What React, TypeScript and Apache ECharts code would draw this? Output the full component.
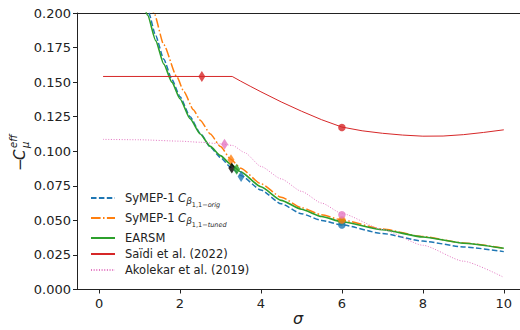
import React, { useEffect, useRef } from "react";
import * as echarts from "echarts";

const FONT = "DejaVu Sans";

const xTicks = [0, 2, 4, 6, 8, 10];

const symepOrig: [number, number][] = [[1.15,0.2050],[1.228,0.2000],[1.40,0.1835],[1.60,0.1665],[1.80,0.1520],[2.00,0.1395],[2.25,0.1250],[2.50,0.1130],[2.75,0.1030],[3.00,0.0955],[3.25,0.0885],[3.50,0.0825],[4.00,0.0720],[4.50,0.0620],[5.00,0.0548],[5.50,0.0500],[6.00,0.0467],[7.00,0.0405],[8.00,0.0350],[9.00,0.0308],[10.00,0.0274]];
const symepTuned: [number, number][] = [[1.28,0.2070],[1.359,0.2000],[1.60,0.1770],[1.92,0.1540],[2.10,0.1430],[2.33,0.1300],[2.50,0.1225],[2.75,0.1125],[3.00,0.1034],[3.26,0.0940],[3.50,0.0877],[4.00,0.0765],[4.50,0.0668],[5.00,0.0592],[5.50,0.0540],[6.00,0.0503],[7.00,0.0437],[8.00,0.0383],[9.00,0.0337],[10.00,0.0298]];
const earsm: [number, number][] = [[1.10,0.2065],[1.20,0.1985],[1.40,0.1800],[1.60,0.1630],[1.80,0.1500],[2.00,0.1380],[2.25,0.1235],[2.50,0.1125],[2.75,0.1035],[3.00,0.0968],[3.25,0.0907],[3.50,0.0851],[4.00,0.0743],[4.50,0.0645],[5.00,0.0580],[5.50,0.0528],[6.00,0.0490],[7.00,0.0432],[8.00,0.0380],[9.00,0.0335],[10.00,0.0298]];
const saidi: [number, number][] = [[0.10,0.1541],[3.29,0.1541],[3.50,0.1507],[3.75,0.1468],[4.00,0.1430],[4.50,0.1357],[5.00,0.1290],[5.50,0.1228],[6.00,0.1175],[6.50,0.1148],[7.00,0.1130],[7.50,0.1117],[8.00,0.1109],[8.50,0.1110],[9.00,0.1120],[9.50,0.1136],[10.00,0.1155]];
const akolekar: [number, number][] = [[0.10,0.1086],[1.0,0.1083],[2.0,0.1073],[2.5,0.1065],[3.0,0.1054],[3.3,0.1042],[3.6,0.0990],[4.0,0.0890],[4.5,0.0800],[5.0,0.0710],[5.5,0.0625],[6.0,0.0550],[7.0,0.0435],[8.0,0.0320],[9.0,0.0205],[10.0,0.0088]];

const diamonds: [number, number, string][] = [[2.54,0.1541,"#d62728"],[3.10,0.1051,"#e377c2"],[3.26,0.0938,"#ff7f0e"],[3.28,0.0878,"#000000"],[3.40,0.0870,"#2ca02c"],[3.51,0.0817,"#1f77b4"]];
const circles: [number, number, string][] = [[6,0.1172,"#d62728"],[6,0.0490,"#2ca02c"],[6,0.0467,"#1f77b4"],[6,0.0503,"#ff7f0e"],[6,0.0540,"#e377c2"]];

const legendNames = ["orig", "tuned", "EARSM", "Saidi", "Akolekar"];
const legendLabels: Record<string, string> = {
  orig: "{t|SyMEP-1 }{c|C}{b|β}{s|1,1−}{si|orig}",
  tuned: "{t|SyMEP-1 }{c|C}{b|β}{s|1,1−}{si|tuned}",
  EARSM: "{t|EARSM}",
  Saidi: "{t|Saïdi et al. (2022)}",
  Akolekar: "{t|Akolekar et al. (2019)}",
};

export default function App() {
  const ref = useRef<HTMLDivElement>(null);
  useEffect(() => {
    const chart = echarts.init(ref.current!, undefined, { renderer: "svg" });
    const lineBase = { type: "line", symbol: "none", showSymbol: false, clip: true, z: 2 };
    const axisCol = "#222";
    chart.setOption({
      animation: false,
      backgroundColor: "#ffffff",
      textStyle: { fontFamily: FONT },
      grid: { left: 77, top: 13, right: 0, bottom: 40.5, show: false, containLabel: false, outerBoundsMode: "none" },
      xAxis: [
        {
          type: "value", min: -0.544, max: 10.40,
          axisLine: { show: true, onZero: false, lineStyle: { color: axisCol, width: 1 } },
          axisTick: { show: true, length: 4, customValues: xTicks, lineStyle: { color: axisCol } },
          axisLabel: { customValues: xTicks, fontSize: 13, color: axisCol, margin: 7, fontFamily: FONT },
          splitLine: { show: false },
        },
        {
          type: "value", position: "top", min: -0.544, max: 10.40,
          axisLine: { show: true, onZero: false, lineStyle: { color: axisCol, width: 1 } },
          axisTick: { show: false }, axisLabel: { show: false }, splitLine: { show: false },
        },
      ],
      yAxis: {
        type: "value", min: 0, max: 0.2, interval: 0.025,
        axisLine: { show: true, onZero: false, lineStyle: { color: axisCol, width: 1 } },
        axisTick: { show: true, length: 4, lineStyle: { color: axisCol } },
        axisLabel: { fontSize: 13, color: axisCol, margin: 6, fontFamily: FONT, formatter: (v: number) => v.toFixed(3) },
        splitLine: { show: false },
      },
      legend: {
        data: legendNames,
        orient: "vertical", left: 85, top: 187, itemGap: 4,
        itemWidth: 24, itemHeight: 10, padding: 5,
        itemStyle: { color: "rgba(0,0,0,0)", borderWidth: 0, opacity: 0 },
        formatter: (n: string) => legendLabels[n],
        textStyle: {
          fontFamily: FONT, color: axisCol,
          rich: {
            t: { fontSize: 11.5, lineHeight: 14, fontFamily: FONT, color: axisCol, padding: [0, 0, 0, 5] },
            c: { fontSize: 11.5, fontFamily: FONT, color: axisCol, fontStyle: "italic" },
            b: { fontSize: 9, fontFamily: FONT, color: axisCol, fontStyle: "italic", padding: [6, 0, 0, 0] },
            s: { fontSize: 6.5, fontFamily: FONT, color: axisCol, padding: [13, 0, 0, 0] },
            si: { fontSize: 6.5, fontFamily: FONT, color: axisCol, fontStyle: "italic", padding: [13, 0, 0, 0] },
          },
        },
      },
      graphic: [
        {
          type: "text", x: 298, y: 318, silent: true,
          style: { text: "σ", fontSize: 16, fontStyle: "italic", fontFamily: FONT, fill: axisCol, align: "center", verticalAlign: "middle" },
        },
        {
          type: "group", x: 20, y: 151, rotation: Math.PI / 2, silent: true,
          children: [
            { type: "text", x: -20, y: 0, style: { text: "−", fontSize: 15, fontFamily: FONT, fill: axisCol, verticalAlign: "middle", align: "left" } },
            { type: "text", x: -9, y: 0, style: { text: "C", fontSize: 15, fontStyle: "italic", fontFamily: FONT, fill: axisCol, verticalAlign: "middle", align: "left" } },
            { type: "text", x: 3, y: 5, style: { text: "μ", fontSize: 10, fontStyle: "italic", fontFamily: FONT, fill: axisCol, verticalAlign: "middle", align: "left" } },
            { type: "text", x: 3, y: -6.5, style: { text: "eff", fontSize: 10, fontStyle: "italic", fontFamily: FONT, fill: axisCol, verticalAlign: "middle", align: "left" } },
          ],
        },
      ],
      series: [
        { ...lineBase, name: "orig", data: symepOrig, smooth: 0.2, smoothMonotone: "x", lineStyle: { color: "#1f77b4", width: 1.5, type: [5.5, 2.4] }, itemStyle: { color: "#1f77b4" } },
        { ...lineBase, name: "tuned", data: symepTuned, smooth: 0.2, smoothMonotone: "x", lineStyle: { color: "#ff7f0e", width: 1.5, type: [9.6, 2.4, 1.5, 2.4] }, itemStyle: { color: "#ff7f0e" } },
        { ...lineBase, name: "EARSM", data: earsm, smooth: 0.2, smoothMonotone: "x", lineStyle: { color: "#2ca02c", width: 1.6, type: "solid" }, itemStyle: { color: "#2ca02c" } },
        { ...lineBase, name: "Saidi", data: saidi, smooth: false, lineStyle: { color: "#d62728", width: 1, type: "solid" }, itemStyle: { color: "#d62728" } },
        { ...lineBase, name: "Akolekar", data: akolekar, smooth: 0.2, smoothMonotone: "x", lineStyle: { color: "#e377c2", width: 1, type: [1, 1.65] }, itemStyle: { color: "#e377c2" } },
        {
          type: "scatter", name: "diamonds", symbol: "diamond", symbolSize: [7, 11], z: 5,
          data: diamonds.map((d) => ({ value: [d[0], d[1]], itemStyle: { color: d[2] } })),
        },
        {
          type: "scatter", name: "circles", symbol: "circle", symbolSize: 7.5, z: 5,
          data: circles.map((d) => ({ value: [d[0], d[1]], itemStyle: { color: d[2] } })),
        },
      ],
    });
    return () => chart.dispose();
  }, []);
  return <div ref={ref} style={{ width: 520, height: 330, position: "absolute", left: 0, top: 0, overflow: "hidden" }} />;
}
